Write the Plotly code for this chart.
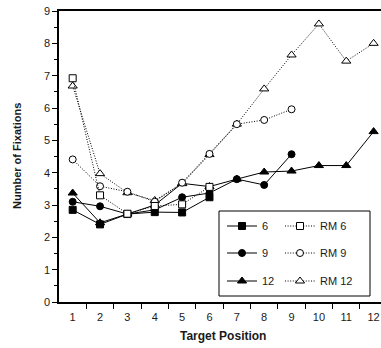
import plotly.graph_objects as go

positions = list(range(1, 13))

s6 = [2.85, 2.40, 2.72, 2.78, 2.77, 3.24]
s9 = [3.10, 2.96, 2.72, 2.85, 3.24, 3.37, 3.80, 3.62, 4.57]
s12 = [3.37, 2.45, 2.72, 3.00, 3.67, 3.57, 3.80, 4.02, 4.05, 4.22, 4.22, 5.27]
rm6 = [6.92, 3.30, 2.73, 2.97, 3.02, 3.56]
rm9 = [4.41, 3.58, 3.41, 3.10, 3.69, 4.58, 5.50, 5.63, 5.96]
rm12 = [6.68, 3.97, 3.38, 3.14, 3.66, 4.56, 5.50, 6.59, 7.64, 8.60, 7.45, 8.00]

xtick_labels = [str(i) for i in positions]
ytick_vals = list(range(0, 10))

FONT = "Liberation Sans, Arial, sans-serif"
DOT = "1px,1.6px"
TXT = "#1a1a1a"

fig = go.Figure()

def add(name, ys, symbol, dash, filled, legend):
    fig.add_trace(go.Scatter(
        x=positions[:len(ys)], y=ys, name=name, mode="lines+markers",
        line=dict(color="black", width=1, dash=dash),
        marker=dict(symbol=symbol, size=8 if "triangle" in symbol else 7,
                    color="black" if filled else "white",
                    line=dict(color="black", width=1)),
        legend=legend, showlegend=True, hoverinfo="skip",
    ))

add("6", s6, "square", "solid", True, "legend")
add("9", s9, "circle", "solid", True, "legend2")
add("12", s12, "triangle-up", "solid", True, "legend3")
add("RM 12", rm12, "triangle-up", DOT, False, "legend6")
add("RM 9", rm9, "circle", DOT, False, "legend5")
add("RM 6", rm6, "square", DOT, False, "legend4")

PL, PT, PB = 59, 11, 302          # plot area in page pixels
W, H = 381, 348
PR = W
pw = PR - PL
ph = PB - PT

def px2x(px):
    return (px - PL) / pw

def px2y(py):
    return (PB - py) / ph

leg_common = dict(bgcolor="rgba(0,0,0,0)", borderwidth=0, font=dict(family=FONT, size=11, color=TXT),
                  xanchor="left", yanchor="middle", itemwidth=30, tracegroupgap=0)
rows = [226, 253, 281]
legends = {}
for i, r in enumerate(rows):
    legends["legend" if i == 0 else f"legend{i+1}"] = dict(x=px2x(222), y=px2y(r), **leg_common)
    legends[f"legend{i+4}"] = dict(x=px2x(280), y=px2y(r), **leg_common)

fig.update_layout(
    width=W, height=H,
    margin=dict(l=PL, r=0, t=PT, b=H - PB),
    plot_bgcolor="white", paper_bgcolor="white",
    font=dict(family=FONT, size=11, color=TXT),
    **legends,
    xaxis=dict(range=[0.5, 12.27], tickmode="array", tickvals=positions, ticktext=xtick_labels,
               ticks="", showline=True, linecolor="black", linewidth=1.5, mirror=True,
               showgrid=False, zeroline=False, ticklabelstandoff=4,
               tickfont=dict(size=11, color=TXT),
               minor=dict(tickmode="array", tickvals=[i + 0.5 for i in range(1, 12)],
                          ticks="outside", ticklen=5, tickwidth=1, tickcolor="black", showgrid=False)),
    yaxis=dict(range=[0, 9], tickmode="array", tickvals=ytick_vals,
               ticks="outside", ticklen=5, tickwidth=1, tickcolor="black",
               showline=True, linecolor="black", linewidth=1.5, mirror=False,
               showgrid=False, zeroline=False, tickfont=dict(size=11, color=TXT),
               minor=dict(tickmode="array", tickvals=[i + 0.5 for i in range(0, 9)],
                          ticks="outside", ticklen=3, tickwidth=1, tickcolor="black", showgrid=False)),
)

# legend frame
fig.add_shape(type="rect", xref="paper", yref="paper",
              x0=px2x(219), x1=px2x(370), y0=px2y(296), y1=px2y(211),
              line=dict(color="black", width=1), fillcolor="white", layer="below")

fig.add_annotation(text="<b>Number of Fixations</b>", xref="paper", yref="paper",
                   x=px2x(17), y=px2y(156), textangle=-90, showarrow=False,
                   xanchor="center", yanchor="middle",
                   font=dict(family=FONT, size=11, color=TXT))
fig.add_annotation(text="<b>Target Position</b>", xref="paper", yref="paper",
                   x=px2x(223), y=px2y(336), showarrow=False,
                   xanchor="center", yanchor="middle",
                   font=dict(family=FONT, size=12, color=TXT))

fig.write_html("out.html", config={"displayModeBar": False},
               post_script="document.body.style.margin='0';")
